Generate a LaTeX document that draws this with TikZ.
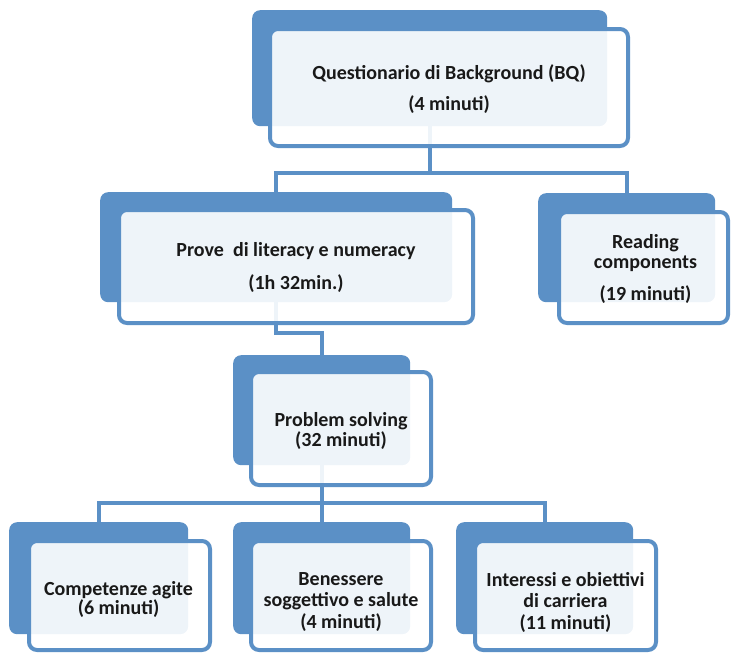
\documentclass[tikz,border=0pt]{standalone}
\usepackage{fontspec}
\setmainfont{Carlito}
\usetikzlibrary{backgrounds}
\definecolor{bq}{RGB}{91,144,198}
\begin{document}
\begin{tikzpicture}[x=1pt,y=-1pt,
  backbox/.style={fill=bq, draw=none, rounded corners=8pt, inner sep=0pt, anchor=north west},
  frontbox/.style={draw=bq, line width=4pt, fill=white, fill opacity=0.9,
     rounded corners=8pt, inner sep=0pt, anchor=center},
  lbl/.style={inner sep=0pt, align=center, text=black!90,
     font=\bfseries\fontsize{20}{21}\selectfont},
  conn/.style={draw=bq, line width=4pt}]
\useasboundingbox (0,0) rectangle (731,653);
% back boxes
\node[backbox, minimum width=355, minimum height=116] (b1) at (252,10) {};
\node[backbox, minimum width=352, minimum height=110] (b2) at (100,192) {};
\node[backbox, minimum width=177, minimum height=109] (b3) at (538,193) {};
\node[backbox, minimum width=177, minimum height=110] (b4) at (233,355) {};
\node[backbox, minimum width=179, minimum height=112] (b5) at (9,522) {};
\node[backbox, minimum width=177, minimum height=112] (b6) at (233,522) {};
\node[backbox, minimum width=177, minimum height=112] (b7) at (456,522) {};
% front boxes
\node[frontbox, minimum width=358, minimum height=117] (f1) at (449,87.5) {};
\node[frontbox, minimum width=354, minimum height=113] (f2) at (296,266.5) {};
\node[frontbox, minimum width=169, minimum height=111] (f3) at (643.5,267.5) {};
\node[frontbox, minimum width=180, minimum height=113] (f4) at (341,428.5) {};
\node[frontbox, minimum width=181, minimum height=109] (f5) at (119.5,595.5) {};
\node[frontbox, minimum width=180, minimum height=109] (f6) at (341,595.5) {};
\node[frontbox, minimum width=181, minimum height=109] (f7) at (565.5,595.5) {};
% labels
\node[lbl] (t1) at ([yshift=-1.5pt]f1.center) {Questionario di Background (BQ)\\[10pt](4 minuti)};
\node[lbl] (t2) at ([yshift=-1pt]f2.center) {Prove~ di literacy e numeracy\\[12pt](1h 32min.)};
\node[lbl] (t3) at ([xshift=2pt,yshift=-1.5pt]f3.center) {Reading\\[-1pt]components\\[11pt](19 minuti)};
\node[lbl] (t4) at ([yshift=-2.5pt]f4.center) {Problem solving\\[-1pt](32 minuti)};
\node[lbl] (t5) at ([xshift=-1pt,yshift=-3.5pt]f5.center) {Competenze agite\\[-2pt](6 minuti)};
\node[lbl] (t6) at ([yshift=-6.5pt]f6.center) {Benessere\\soggettivo e salute\\[1pt](4 minuti)};
\node[lbl] (t7) at ([yshift=-6.5pt]f7.center) {Interessi e obiettivi\\di carriera\\[1pt](11 minuti)};
% junctions
\coordinate (j1) at (b1.center |- 0,173);
\coordinate (j2) at (b4.center |- 0,333);
\coordinate (j3) at (b4.center |- 0,503);
% connectors behind everything
\begin{scope}[on background layer]
\draw[conn] (b1.center) -- (j1);
\draw[conn] (b2.center) |- (j1) -| (b3.center);
\draw[conn] (b2.center) |- (j2) -- (b4.center);
\draw[conn] (b4.center) -- (j3);
\draw[conn] (b5.center) |- (j3) -| (b7.center);
\draw[conn] (j3) -- (b6.center);
\end{scope}
\end{tikzpicture}
\end{document}
